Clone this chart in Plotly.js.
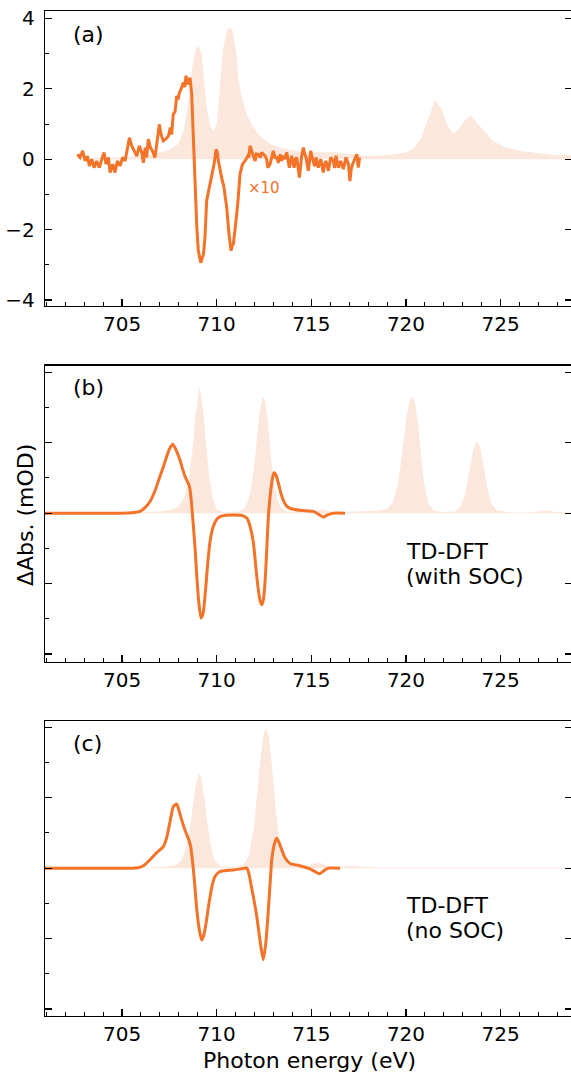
<!DOCTYPE html>
<html>
<head>
<meta charset="utf-8">
<script src="https://cdn.plot.ly/plotly-3.0.1.min.js"></script>
<style>
html,body{margin:0;padding:0;overflow:hidden;background:#fff;width:571px;height:1073px;}
#plot{width:576px;height:1073px;}
</style>
</head>
<body>
<div id="plot"></div>
<script>
// ---------- Panel (a): experiment ----------
const expE = [702.64,702.78,702.92,703.05,703.17,703.27,703.40,703.52,703.66,703.80,703.93,704.05,704.15,704.28,704.37,704.51,704.63,704.75,704.90,705.03,705.16,705.28,705.39,705.51,705.63,705.78,705.91,706.04,706.13,706.22,706.30,706.39,706.50,706.60,706.74,706.82,706.97,707.06,707.18,707.30,707.45,707.55,707.62,707.71,707.80,707.89,707.96,708.03,708.10,708.15,708.24,708.31,708.38,708.47,708.53,708.59,708.68,708.77,708.86,708.95,709.03,709.16,709.30,709.38,709.47,709.54,709.61,709.68,709.74,709.86,709.97,710.03,710.09,710.18,710.24,710.30,710.37,710.44,710.53,710.65,710.70,710.76,710.82,710.88,711.00,711.06,711.11,711.18,711.23,711.36,711.50,711.64,711.70,711.76,711.88,712.03,712.10,712.20,712.30,712.38,712.46,712.55,712.64,712.70,712.82,712.99,713.08,713.17,713.26,713.35,713.44,713.52,713.60,713.70,713.84,713.96,714.09,714.16,714.23,714.30,714.37,714.49,714.58,714.65,714.72,714.84,714.97,715.04,715.11,715.18,715.25,715.37,715.50,715.57,715.63,715.70,715.77,715.90,716.02,716.16,716.23,716.30,716.43,716.55,716.62,716.69,716.83,716.96,717.04,717.10,717.18,717.31,717.40,717.48,717.55];
const expDA = [0.14,0.05,0.24,-0.05,0.09,-0.19,0.00,-0.24,-0.05,-0.24,0.00,0.19,-0.14,0.05,-0.38,-0.14,-0.38,-0.05,-0.19,0.05,-0.05,0.28,0.61,0.38,0.24,0.09,0.38,0.19,-0.10,0.33,0.05,0.57,0.33,0.24,0.05,0.43,0.99,0.70,0.52,0.57,0.66,0.90,0.70,1.28,1.35,1.80,1.70,1.89,1.95,2.03,2.18,2.05,2.37,2.13,2.20,2.32,1.85,0.43,-0.99,-1.94,-2.60,-2.94,-2.70,-2.23,-1.18,-1.00,-0.81,-0.65,-0.43,-0.14,0.28,0.20,-0.05,-0.33,-0.45,-0.62,-0.75,-0.99,-1.37,-2.13,-2.40,-2.60,-2.45,-2.41,-1.85,-1.60,-1.28,-0.80,-0.43,-0.14,-0.05,0.09,0.05,0.38,0.19,-0.05,0.15,0.14,0.05,0.19,0.14,0.10,0.00,-0.24,-0.14,0.24,0.05,0.05,-0.10,0.14,-0.05,0.10,0.00,0.19,-0.24,0.10,-0.24,0.00,0.05,-0.20,-0.52,0.10,0.33,0.15,0.05,-0.33,0.24,0.05,-0.10,-0.20,0.05,-0.24,0.00,-0.20,-0.38,-0.15,-0.05,-0.33,0.05,-0.05,-0.25,0.10,-0.24,-0.05,-0.20,-0.28,0.05,-0.14,-0.62,-0.30,-0.14,0.05,0.14,-0.24,0.05];

// Ground-state XAS (scaled), panel (a)
const xasE = [702.7,704.0,705.0,706.0,706.5,707.0,707.54,707.97,708.24,708.5,708.68,708.86,709.03,709.21,709.33,709.47,709.65,709.82,710.0,710.18,710.35,710.56,710.7,710.85,711.02,711.14,711.32,711.59,711.94,712.29,712.82,713.35,714.0,714.8,715.5,716.3,717.0,717.8,718.6,719.5,720.0,720.4,720.8,721.2,721.53,721.9,722.2,722.5,722.8,723.1,723.42,723.8,724.2,724.6,725.2,725.67,726.2,726.7,727.3,727.9,728.4,728.8];
const xasA = [0.03,0.04,0.05,0.08,0.12,0.19,0.28,0.43,0.80,1.56,2.50,3.08,3.22,2.98,2.22,1.47,0.95,0.80,0.99,2.03,3.17,3.69,3.74,3.64,3.08,2.32,1.75,1.28,0.90,0.66,0.43,0.33,0.25,0.20,0.20,0.20,0.15,0.10,0.10,0.14,0.20,0.30,0.60,1.20,1.68,1.40,0.95,0.73,0.85,1.10,1.25,1.00,0.75,0.52,0.35,0.28,0.22,0.19,0.15,0.11,0.13,0.12];

// ---------- Panel (b): TD-DFT with SOC ----------
const socE = [700.9,705.0,705.5,705.95,706.2,706.48,706.75,707.0,707.2,707.36,707.5,707.68,707.85,708.06,708.2,708.33,708.45,708.56,708.65,708.77,708.87,708.95,709.05,709.17,709.28,709.38,709.47,709.56,709.68,709.82,710.0,710.18,710.5,710.88,711.3,711.59,711.75,711.94,712.08,712.2,712.3,712.38,712.47,712.55,712.64,712.73,712.86,712.95,713.03,713.12,713.26,713.4,713.55,713.7,713.87,714.4,715.1,715.35,715.63,715.85,716.15,716.78];
const socDA = [0,0,0.01,0.05,0.15,0.33,0.65,1.04,1.35,1.61,1.82,1.96,1.80,1.51,1.25,1.04,0.90,0.76,0.40,-0.38,-1.10,-1.80,-2.50,-2.98,-2.85,-2.37,-1.80,-1.23,-0.70,-0.38,-0.18,-0.10,-0.06,-0.05,-0.06,-0.14,-0.35,-0.85,-1.60,-2.18,-2.50,-2.60,-2.45,-1.99,-1.10,-0.10,0.66,1.00,1.15,1.10,0.85,0.55,0.33,0.20,0.14,0.08,0.05,-0.02,-0.11,-0.05,0.00,0.00];
const socXE = [700.9,705.0,706.0,707.0,707.6,708.0,708.3,708.5,708.7,708.85,709.0,709.07,709.15,709.3,709.45,709.6,709.8,710.0,710.3,710.8,711.2,711.5,711.75,711.95,712.1,712.25,712.4,712.46,712.55,712.7,712.85,713.0,713.2,713.4,713.7,714.5,715.2,715.6,716.0,716.5,717.5,718.5,719.0,719.3,719.6,719.85,720.05,720.2,720.34,720.5,720.65,720.8,721.0,721.2,721.5,722.0,722.6,722.9,723.15,723.35,723.55,723.74,723.9,724.1,724.3,724.5,724.8,725.5,726.5,727.2,727.5,727.8,728.8];
const socXA = [0,0,0.02,0.05,0.10,0.20,0.45,0.90,1.70,2.60,3.40,3.58,3.45,2.80,1.90,1.05,0.40,0.12,0.04,0.03,0.05,0.15,0.50,1.20,2.00,2.80,3.25,3.30,3.20,2.60,1.70,0.95,0.40,0.15,0.05,0.03,0.06,0.12,0.05,0.03,0.05,0.07,0.12,0.30,0.90,1.90,2.80,3.20,3.31,3.10,2.50,1.60,0.70,0.25,0.07,0.03,0.05,0.20,0.60,1.20,1.80,2.06,1.90,1.35,0.70,0.28,0.08,0.02,0.02,0.06,0.08,0.04,0.02];

// ---------- Panel (c): TD-DFT no SOC ----------
const nosocE = [700.9,705.5,705.9,706.13,706.48,706.83,707.0,707.18,707.35,707.45,707.6,707.71,707.89,708.0,708.15,708.3,708.42,708.53,708.63,708.7,708.77,708.86,708.95,709.08,709.21,709.32,709.44,709.55,709.65,709.78,709.91,710.1,710.27,710.88,711.3,711.59,711.7,711.8,711.95,712.12,712.3,712.46,712.58,712.66,712.73,712.82,712.91,713.03,713.17,713.3,713.44,713.6,713.87,714.4,714.93,715.2,715.42,715.65,715.9,716.52];
const nosocDA = [0,0,0.02,0.07,0.24,0.44,0.52,0.61,0.85,1.09,1.50,1.75,1.82,1.65,1.37,1.12,0.95,0.80,0.61,0.30,-0.05,-0.60,-1.18,-1.75,-2.04,-1.90,-1.56,-1.15,-0.81,-0.45,-0.24,-0.12,-0.08,-0.05,-0.02,0.00,-0.15,-0.43,-0.85,-1.38,-2.10,-2.60,-2.20,-1.70,-1.18,-0.45,0.24,0.65,0.85,0.72,0.52,0.30,0.13,0.07,-0.02,-0.10,-0.16,-0.08,0.00,0.00];
const nosocXE = [700.9,705.5,706.5,707.3,707.8,708.1,708.35,708.55,708.75,708.9,709.07,709.2,709.35,709.5,709.7,709.9,710.2,711.0,711.4,711.7,711.95,712.15,712.35,712.5,712.61,712.75,712.9,713.1,713.3,713.5,713.8,714.3,714.9,715.2,715.4,715.7,716.2,716.8,717.15,717.6,718.5,728.8];
const nosocXA = [0,0,0.02,0.04,0.08,0.20,0.50,1.00,1.80,2.40,2.70,2.55,2.00,1.30,0.60,0.20,0.05,0.03,0.08,0.35,1.10,2.20,3.30,3.85,3.98,3.75,3.00,1.80,0.80,0.30,0.08,0.04,0.08,0.14,0.16,0.10,0.04,0.05,0.07,0.04,0.02,0.02];

const xTickVals = [705,710,715,720,725];
const yTickVals = [-4,-2,0,2,4];
const yTickText = ['−4','−2','0','2','4'];

const ORANGE = '#F37329';
const FILL = '#FCE7DD';
const FONT = 'DejaVu Sans, sans-serif';
const FS_TICK = 20;
const FS_TEXT = 22;

function fillTrace(x, y, xa, ya) {
  return {x:x, y:y, xaxis:xa, yaxis:ya, type:'scatter', mode:'lines', fill:'tozeroy',
          fillcolor:FILL, line:{width:0, color:FILL}, hoverinfo:'skip', showlegend:false};
}
function lineTrace(x, y, xa, ya, shape) {
  return {x:x, y:y, xaxis:xa, yaxis:ya, type:'scatter', mode:'lines',
          line:{color:ORANGE, width:3, shape:shape, smoothing:0.6}, hoverinfo:'skip', showlegend:false};
}
function dummy(xa, ya) {
  return {x:[expE[0]], y:[0], xaxis:xa, yaxis:ya, type:'scatter', mode:'markers',
          marker:{opacity:0, size:1}, hoverinfo:'skip', showlegend:false};
}

const data = [
  fillTrace(xasE, xasA, 'x', 'y'),
  lineTrace(expE, expDA, 'x', 'y', 'linear'),
  fillTrace(socXE, socXA, 'x2', 'y2'),
  lineTrace(socE, socDA, 'x2', 'y2', 'spline'),
  fillTrace(nosocXE, nosocXA, 'x3', 'y3'),
  lineTrace(nosocE, nosocDA, 'x3', 'y3', 'spline'),
  dummy('x','y4'), dummy('x2','y5'), dummy('x3','y6')
];

const XR = [700.93, 728.77];
function xAxis(anchor, showLabels) {
  return {
    anchor: anchor, range: XR, showgrid:false, zeroline:false,
    showline:true, linecolor:'#000', linewidth:1.3, mirror:true,
    ticks:'inside', ticklen:7, tickwidth:1.2, tickcolor:'#000',
    tickmode:'array', tickvals:xTickVals, ticktext:xTickVals.map(String),
    showticklabels: showLabels, ticklabelstandoff: 0,
    tickfont:{family:FONT, size:FS_TICK, color:'#000'},
    minor:{dtick:1, tick0:700, ticks:'inside', ticklen:4, tickwidth:1, tickcolor:'#000', showgrid:false}
  };
}
function yAxis(anchor, domain, range, showLabels) {
  return {
    anchor: anchor, domain: domain, range: range, showgrid:false, zeroline:false,
    showline:true, linecolor:'#000', linewidth:1.3, mirror:true,
    ticks:'inside', ticklen:7, tickwidth:1.2, tickcolor:'#000',
    tickmode:'array', tickvals:yTickVals, ticktext:yTickText,
    showticklabels: showLabels, ticklabelstandoff: 5,
    tickfont:{family:FONT, size:FS_TICK, color:'#000'},
    minor:{dtick:1, tick0:-5, ticks:'inside', ticklen:4, tickwidth:1, tickcolor:'#000', showgrid:false}
  };
}
function yRight(overlay, range) {
  return {
    overlaying: overlay, side:'right', anchor: overlay === 'y' ? 'x' : (overlay === 'y2' ? 'x2' : 'x3'),
    range: range, showgrid:false, zeroline:false, showline:false,
    ticks:'inside', ticklen:7, tickwidth:1.2, tickcolor:'#000',
    tickmode:'array', tickvals:yTickVals, showticklabels:false
  };
}

const RA = [-4.17, 4.21], RB = [-4.22, 4.19], RC = [-4.20, 4.18];
const DA = [0.70647, 1.0], DB = [0.35254, 0.64706], DC = [0.0, 0.29353];

const annFont = {family:FONT, size:FS_TEXT, color:'#000'};
function note(xa, ya, x, y, text) {
  return {xref:xa, yref:ya, x:x, y:y, text:text, showarrow:false, xanchor:'left', yanchor:'middle', font:annFont};
}
const layout = {
  width: 576, height: 1073,
  margin: {l:45, r:4, t:11, b:57},
  paper_bgcolor:'#fff', plot_bgcolor:'rgba(0,0,0,0)',
  font: {family:FONT, size:FS_TEXT, color:'#000'},
  showlegend:false,
  xaxis: xAxis('y', true),
  xaxis2: xAxis('y2', true),
  xaxis3: xAxis('y3', true),
  yaxis: yAxis('x', DA, RA, true),
  yaxis2: yAxis('x2', DB, RB, false),
  yaxis3: yAxis('x3', DC, RC, false),
  yaxis4: yRight('y', RA),
  yaxis5: yRight('y2', RB),
  yaxis6: yRight('y3', RC),
  annotations: [
    note('x', 'y', 702.3, 3.53, '(a)'),
    note('x2', 'y2', 702.3, 3.56, '(b)'),
    note('x3', 'y3', 702.3, 3.53, '(c)'),
    {xref:'x', yref:'y', x:711.55, y:-0.82, text:'×10', showarrow:false, xanchor:'left', yanchor:'middle',
     font:{family:FONT, size:15, color:ORANGE}},
    note('x2', 'y2', 719.9, -1.085, 'TD-DFT'),
    note('x2', 'y2', 719.9, -1.81, '(with SOC)'),
    note('x3', 'y3', 719.9, -1.07, 'TD-DFT'),
    note('x3', 'y3', 719.9, -1.78, '(no SOC)'),
    {xref:'paper', yref:'paper', x:0, xshift:-20, y:0.4985, text:'ΔAbs. (mOD)', textangle:-90, showarrow:false,
     xanchor:'center', yanchor:'middle', font:annFont},
    {xref:'paper', yref:'paper', x:0.501, y:-0.0438, text:'Photon energy (eV)', showarrow:false,
     xanchor:'center', yanchor:'middle', font:annFont}
  ]
};

Plotly.newPlot('plot', data, layout, {staticPlot:true, displayModeBar:false});
</script>
</body>
</html>
